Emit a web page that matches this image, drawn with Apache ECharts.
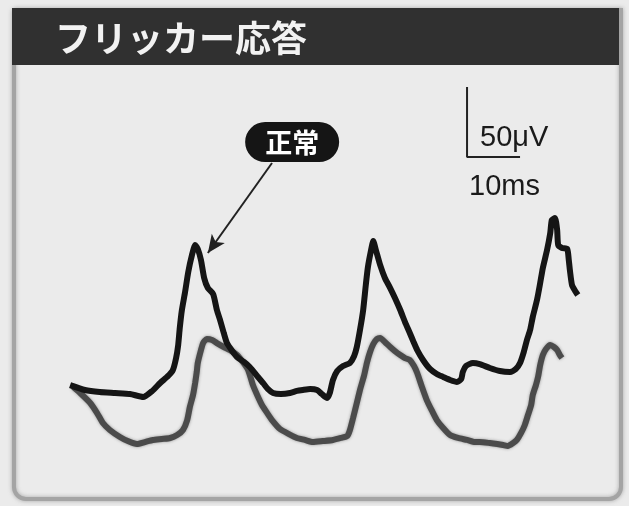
<!DOCTYPE html>
<html>
<head>
<meta charset="utf-8">
<script src="https://cdn.jsdelivr.net/npm/echarts@6/dist/echarts.min.js"></script>
<style>
  html, body { margin: 0; padding: 0; background: #ebebeb; }
  #chart { width: 629px; height: 506px; }
</style>
</head>
<body>
<div id="chart"></div>
<script>
// Flicker ERG traces: [time (ms), amplitude (µV)]
const normalTrace = [
  [1.9,82.1],[4.7,78.6],[7.5,77.1],[10.4,76.4],[13.2,75.7],[15.7,73.6],[17.4,77.9],[18.9,83.6],
  [20.4,88.6],[21.3,92.9],[21.9,101.4],[22.3,110.7],[22.6,122.9],[23.0,135.7],[23.6,148.6],
  [24.2,162.9],[24.9,175.0],[25.5,182.1],[26.0,179.3],[26.6,171.4],[27.2,158.6],[27.9,151.4],
  [28.9,147.1],[29.6,135.7],[30.2,128.6],[30.9,119.3],[31.5,112.1],[32.5,106.4],[33.4,102.1],
  [34.7,98.6],[35.8,95.0],[37.2,88.6],[38.3,83.6],[39.2,79.3],[40.2,76.4],[41.7,75.7],[43.4,76.4],
  [44.7,77.9],[45.8,78.6],[47.2,79.3],[48.5,78.6],[49.4,75.7],[50.4,72.9],[50.9,76.4],[51.5,85.7],
  [52.3,92.1],[53.4,95.7],[54.7,97.9],[55.5,102.9],[56.0,109.3],[56.6,121.4],[57.2,135.7],
  [57.7,153.6],[58.1,166.4],[58.7,178.6],[59.1,185.0],[59.6,178.6],[60.4,167.9],[61.3,158.6],
  [62.3,151.4],[63.2,144.3],[64.2,135.7],[65.1,127.1],[66.0,119.3],[66.8,112.1],[67.4,107.1],
  [68.5,100.0],[69.8,93.6],[71.1,90.0],[72.3,87.9],[73.6,85.7],[74.9,84.3],[75.7,86.4],[76.0,91.4],
  [76.6,95.7],[77.9,97.9],[79.2,97.1],[81.1,94.3],[83.0,92.1],[84.9,91.4],[86.0,93.6],[86.8,97.9],
  [87.5,105.7],[88.1,114.3],[88.7,121.4],[89.2,130.7],[90.0,142.9],[90.6,155.0],[91.1,165.7],
  [91.9,178.6],[92.5,190.7],[92.8,200.0],[93.4,201.4],[93.8,192.9],[94.0,182.1],[94.7,180.0],
  [95.7,179.3],[96.0,171.4],[96.2,164.3],[96.6,153.6],[97.2,149.3],[97.7,146.4]
];

const secondTrace = [
  [2.5,80.7],[3.8,76.4],[5.7,69.3],[7.0,62.1],[8.1,55.0],[9.4,50.0],[11.3,45.0],[12.8,42.1],
  [14.5,40.0],[16.0,41.4],[17.5,42.9],[19.2,43.6],[20.8,44.3],[22.1,46.4],[23.2,50.0],[24.0,57.1],
  [24.5,66.4],[25.1,75.0],[25.5,83.6],[25.8,91.4],[26.0,97.9],[26.6,107.1],[27.0,112.1],[27.7,115.0],
  [28.7,114.3],[29.6,112.1],[30.9,109.3],[32.1,107.1],[33.4,103.6],[34.5,98.6],[35.5,92.9],
  [36.4,82.1],[37.2,75.0],[38.1,67.9],[39.1,62.1],[40.0,57.1],[41.5,50.7],[43.2,47.1],[44.7,44.3],
  [46.2,42.9],[47.7,41.4],[49.6,42.1],[51.5,42.9],[53.0,44.3],[54.2,45.7],[54.7,50.0],[55.3,58.6],
  [56.0,69.3],[56.6,78.6],[57.4,89.3],[57.9,97.9],[58.5,105.7],[59.1,111.4],[59.8,115.0],
  [60.4,115.7],[61.3,112.9],[62.3,109.3],[63.2,106.4],[64.2,103.6],[65.1,101.4],[66.0,100.0],
  [66.8,95.7],[67.4,90.7],[68.3,80.7],[69.2,71.4],[70.2,63.6],[71.1,57.1],[72.3,51.4],[73.6,46.4],
  [75.1,44.3],[76.8,42.9],[78.3,41.4],[79.2,41.4],[81.1,40.7],[82.5,40.0],[83.6,39.3],[84.5,38.6],
  [85.5,40.7],[86.2,42.9],[87.0,47.9],[87.7,53.6],[88.3,60.7],[88.9,67.9],[89.2,75.0],[89.8,82.1],
  [90.2,87.9],[90.6,96.4],[91.1,103.6],[91.7,107.9],[92.5,110.7],[93.2,109.3],[93.8,107.1],
  [94.3,103.6],[94.7,101.4]
];

// Calibration bar: 50 µV vertical, 10 ms horizontal
const scaleBar = [[76.8, 295], [76.8, 245], [86.8, 245]];
const scaleLabels = ['50μV', '10ms'];

// Label "正常" and the arrow pointing at the normal trace
const noteText = '正常';
const noteCenter = [43.8, 255.7];
const arrowFrom = [40.0, 240.7];
const arrowTo = [27.9, 176.4];

const titleText = 'フリッカー応答';

const chart = echarts.init(document.getElementById('chart'));

chart.setOption({
  backgroundColor: '#ebebeb',
  animation: false,
  grid: { left: 60, right: 39, top: 80, bottom: 6 },
  xAxis: { type: 'value', min: 0, max: 100, show: false },
  yAxis: { type: 'value', min: 0, max: 300, show: false },
  series: [
    {
      type: 'line',
      data: secondTrace,
      showSymbol: false,
      smooth: 0.2,
      lineStyle: { color: '#4b4b4b', width: 6, shadowColor: 'rgba(60,60,60,0.5)', shadowBlur: 3 },
      z: 2
    },
    {
      type: 'line',
      data: normalTrace,
      showSymbol: false,
      smooth: 0.2,
      lineStyle: { color: '#151515', width: 6 },
      z: 3,
      markLine: {
        silent: true,
        symbol: ['none', 'arrow'],
        symbolSize: [12, 18],
        label: { show: false },
        lineStyle: { color: '#222', width: 2, type: 'solid' },
        data: [[{ coord: arrowFrom }, { coord: arrowTo }]]
      }
    },
    {
      type: 'line',
      data: scaleBar,
      showSymbol: false,
      lineStyle: { color: '#222', width: 2 },
      z: 3
    }
  ]
});

function drawDecorations() {
  const pill = chart.convertToPixel({ gridIndex: 0 }, noteCenter);
  const barTop = chart.convertToPixel({ gridIndex: 0 }, scaleBar[0]);
  const barCorner = chart.convertToPixel({ gridIndex: 0 }, scaleBar[1]);
  chart.setOption({
    graphic: [
      // Panel frame with rounded bottom corners
      {
        type: 'rect', z: 0,
        shape: { x: 14, y: 10, width: 607, height: 489, r: [0, 0, 12, 12] },
        style: { fill: 'none', stroke: '#a4a4a4', lineWidth: 4, shadowColor: 'rgba(120,120,120,0.6)', shadowBlur: 4 }
      },
      // Title bar
      {
        type: 'rect', z: 10,
        shape: { x: 12, y: 8, width: 607, height: 57 },
        style: { fill: '#303030' }
      },
      {
        type: 'text', z: 11,
        style: {
          x: 55, y: 38, text: titleText, fill: '#f2f2f2',
          font: 'bold 36px "Noto Sans CJK JP"', verticalAlign: 'middle'
        }
      },
      // Note pill
      {
        type: 'rect', z: 11,
        shape: { x: pill[0] - 47, y: pill[1] - 20, width: 94, height: 40, r: 20 },
        style: { fill: '#151515' }
      },
      {
        type: 'text', z: 12,
        style: {
          x: pill[0], y: pill[1] + 1, text: noteText, fill: '#ffffff',
          font: 'bold 27px "Noto Sans CJK JP"', align: 'center', verticalAlign: 'middle'
        }
      },
      // Calibration labels
      {
        type: 'text', z: 12,
        style: {
          x: barTop[0] + 13, y: barCorner[1] - 19, text: scaleLabels[0], fill: '#1a1a1a',
          font: '29px "Liberation Sans"', verticalAlign: 'middle'
        }
      },
      {
        type: 'text', z: 12,
        style: {
          x: barCorner[0] + 2, y: barCorner[1] + 30, text: scaleLabels[1], fill: '#1a1a1a',
          font: '29px "Liberation Sans"', verticalAlign: 'middle'
        }
      }
    ]
  });
}

drawDecorations();
</script>
</body>
</html>
